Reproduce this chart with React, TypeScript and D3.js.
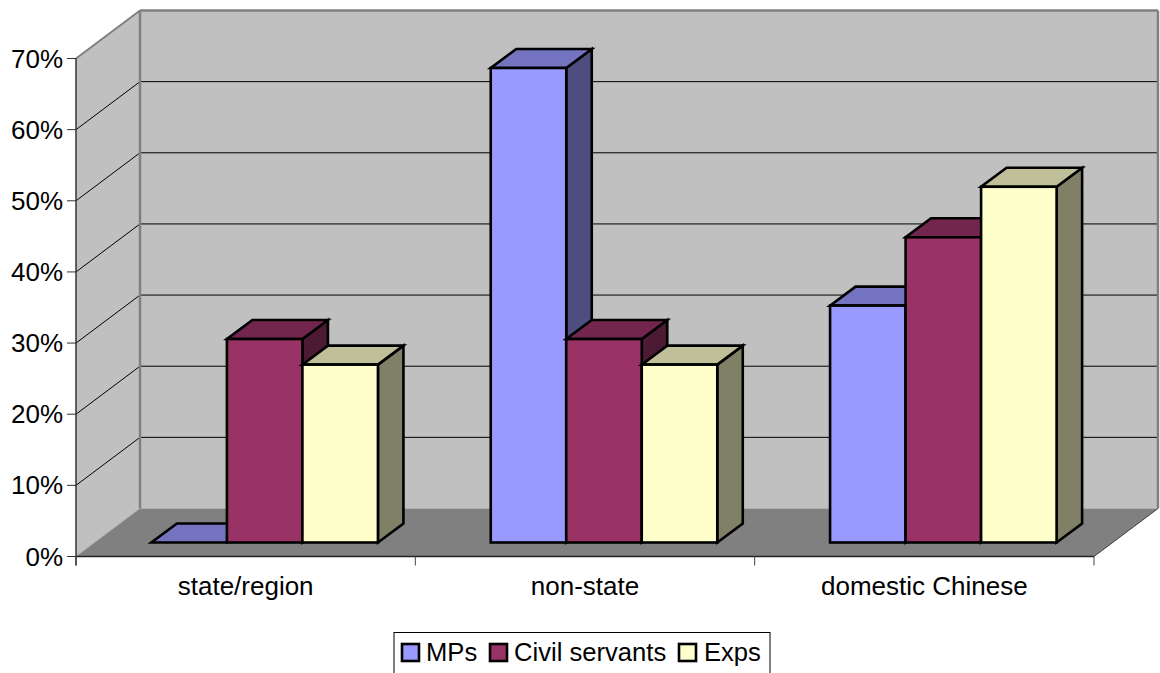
import React from "react";
import * as d3 from "d3";

const categories = ["state/region", "non-state", "domestic Chinese"];
const seriesNames = ["MPs", "Civil servants", "Exps"];
const mps = [0, 66.7, 33.3];
const civil = [28.6, 28.6, 42.9];
const exps = [25, 25, 50];
const yTicks = [0, 10, 20, 30, 40, 50, 60, 70];

const seriesValues = [mps, civil, exps];
const frontColors = ["#9999ff", "#993366", "#ffffcc"];
const topColors = ["#7373bf", "#73264d", "#bfbf99"];
const sideColors = ["#4d4d80", "#4d1a33", "#808066"];

const FONT = "'Liberation Sans', Arial, sans-serif";
const left = 76, right = 1094, base = 556.5, top = 58.5;
const wallDx = 64, wallDy = -48;
const barShiftX = 19, barShiftY = -14;
const depthX = 25.5, depthY = -19;

const x0 = d3.scaleBand<string>().domain(categories).range([left, right]);
const groupGap = 56.4;
const x1 = d3.scaleBand<string>().domain(seriesNames).range([groupGap, x0.bandwidth() - groupGap]);
const y = d3.scaleLinear().domain([0, 70]).range([base, top]);

const poly = (pts: number[][]) => pts.map((p) => p.join(",")).join(" ");

const legendItems = [
  { swatch: 402, text: 426 },
  { swatch: 490, text: 514 },
  { swatch: 679, text: 704 },
];

export default function App() {
  const bw = x1.bandwidth();
  return (
    <svg width={1160} height={673} style={{ position: "absolute", left: 0, top: 0, display: "block", background: "#fff" }} fontFamily={FONT}>
      <polygon
        points={poly([[left, base], [left + wallDx, base + wallDy], [left + wallDx, top + wallDy], [left, top]])}
        fill="#c0c0c0"
      />
      <rect x={left + wallDx} y={top + wallDy} width={right - left} height={base - top} fill="#c0c0c0" />
      <polygon
        points={poly([[left, base], [right, base], [right + wallDx, base + wallDy], [left + wallDx, base + wallDy]])}
        fill="#808080"
      />
      {yTicks.slice(1, -1).map((t) => (
        <g key={t} stroke="#000" strokeWidth={1} fill="none">
          <line x1={left} y1={y(t)} x2={left + wallDx} y2={y(t) + wallDy} />
          <line x1={left + wallDx} y1={y(t) + wallDy} x2={right + wallDx} y2={y(t) + wallDy} />
        </g>
      ))}
      <g stroke="#808080" fill="none">
        <line x1={left} y1={top} x2={left + wallDx} y2={top + wallDy} strokeWidth={2} />
        <line x1={left + wallDx} y1={top + wallDy} x2={right + wallDx} y2={top + wallDy} strokeWidth={2.5} />
        <line x1={left + wallDx} y1={top + wallDy} x2={left + wallDx} y2={base + wallDy} strokeWidth={2.5} />
        <line x1={right + wallDx} y1={top + wallDy} x2={right + wallDx} y2={base + wallDy} strokeWidth={2.5} />
      </g>
      <line x1={left} y1={base} x2={left + wallDx} y2={base + wallDy} stroke="#a0a0a0" strokeWidth={1} />
      <line x1={right} y1={base} x2={right + wallDx} y2={base + wallDy} stroke="#404040" strokeWidth={1} />

      {categories.map((c, ci) =>
        seriesNames.map((s, si) => {
          const v = seriesValues[si][ci];
          const xa = x0(c)! + x1(s)! + barShiftX;
          const xb = xa + bw;
          const yb = base + barShiftY;
          const yt = y(v) + barShiftY;
          return (
            <g key={c + s} stroke="#000" strokeWidth={2.6} strokeLinejoin="miter">
              {v > 0 && (
                <polygon
                  points={poly([[xb, yb], [xb + depthX, yb + depthY], [xb + depthX, yt + depthY], [xb, yt]])}
                  fill={sideColors[si]}
                />
              )}
              <polygon
                points={poly([[xa, yt], [xb, yt], [xb + depthX, yt + depthY], [xa + depthX, yt + depthY]])}
                fill={topColors[si]}
              />
              {v > 0 && <rect x={xa} y={yt} width={bw} height={yb - yt} fill={frontColors[si]} />}
            </g>
          );
        })
      )}

      <line x1={left} y1={top} x2={left} y2={base + 9} stroke="#333" strokeWidth={1.5} />
      <line x1={left} y1={base} x2={right} y2={base} stroke="#222" strokeWidth={1.5} />
      {yTicks.map((t) => (
        <g key={t}>
          <line x1={left - 9} y1={y(t)} x2={left} y2={y(t)} stroke="#333" strokeWidth={1} />
          <text x={63} y={y(t) + 9} textAnchor="end" fontSize={26} fill="#000">
            {t}%
          </text>
        </g>
      ))}
      {[...categories.map((c) => x0(c)!), right].map((px, i) => (
        <line key={i} x1={px} y1={base} x2={px} y2={base + 9} stroke="#444" strokeWidth={1} />
      ))}
      {categories.map((c) => (
        <text key={c} x={x0(c)! + x0.bandwidth() / 2} y={595} textAnchor="middle" fontSize={26} fill="#000">
          {c}
        </text>
      ))}

      <rect x={394} y={632.5} width={376} height={41} fill="#fff" stroke="#000" strokeWidth={1} />
      {seriesNames.map((s, i) => (
        <g key={s}>
          <rect x={legendItems[i].swatch} y={644} width={17} height={17} fill={frontColors[i]} stroke="#000" strokeWidth={2.6} />
          <text x={legendItems[i].text} y={661} fontSize={25.6} fill="#000">
            {s}
          </text>
        </g>
      ))}
    </svg>
  );
}
